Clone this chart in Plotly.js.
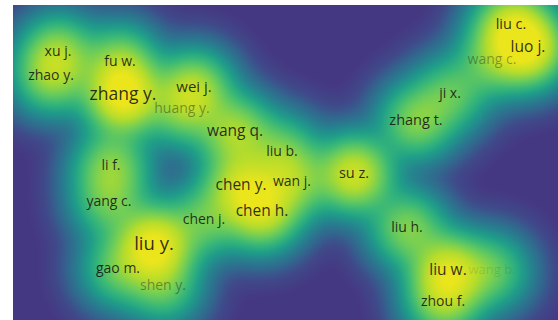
<!DOCTYPE html>
<html>
<head>
<meta charset="utf-8">
<script src="https://cdn.plot.ly/plotly-3.0.1.min.js"></script>
<style>html,body{margin:0;padding:0;background:#fff;}#chart{width:558px;height:320px;}</style>
</head>
<body>
<div id="chart"></div>
<script>
// Co-authorship density map: author nodes, their layout positions and weights
const authors = ['xu j.','zhao y.','fu w.','zhang y.','huang y.','wei j.','wang q.','liu b.',
  'li f.','yang c.','chen j.','chen y.','wan j.','chen h.','su z.','liu y.','gao m.','shen y.',
  'liu c.','luo j.','wang c.','ji x.','zhang t.','liu h.','liu w.','wang b.','zhou f.'];
const posX = [45,38,107,110,169,181,222,269,
  98,96,191,228,279,249,341,141,105,150,
  498,515,479,437,403,394,435,479,430];
const posY = [47,71,57,91,104,83,127,147,
  161,197,215,181,177,207,169,240,264,281,
  20,43,55,89,116,223,266,266,297];
const weights = [4,4,4,9,3,5,5,3,
  4,3,3,6,4,6,7,9,3,3,
  6,8,3,3,4,4,7,3,4];
const labelSize = [14,14,14,17.5,14,15,15.5,14,
  14,14,14,15.5,14,15.5,14.5,18.5,14,14,
  14.5,15.5,14,14,14.5,14,15.5,13,14];
const labelAlpha = [0.88,0.88,0.88,0.88,0.42,0.88,0.88,0.88,
  0.88,0.88,0.88,0.88,0.88,0.88,0.88,0.88,0.88,0.42,
  0.88,0.88,0.38,0.88,0.88,0.88,0.88,0.12,0.88];

// Kernel density over the map area, shown on a compressed (power) scale
const W = 545, H = 315, step = 5, sigma = 22, zRef = 9, gamma = 0.38;
const gx = [], gy = [], z = [];
for (let x = 0; x <= W; x += step) gx.push(x);
for (let y = 0; y <= H; y += step) gy.push(y);
for (const y of gy) {
  const row = [];
  for (const x of gx) {
    let s = 0;
    for (let i = 0; i < authors.length; i++) {
      const dx = x - posX[i], dy = y - posY[i];
      s += weights[i] * Math.exp(-(dx * dx + dy * dy) / (2 * sigma * sigma));
    }
    row.push(Math.pow(s / zRef, gamma));
  }
  z.push(row);
}

const colorscale = [
  [0.00, '#453882'], [0.10, '#3f4a8a'], [0.20, '#32668e'], [0.32, '#26818e'],
  [0.44, '#1f9d89'], [0.56, '#36b679'], [0.70, '#6ecd58'], [0.84, '#b4dc2c'], [1.00, '#ebe51c']
];

const density = {
  type: 'heatmap', x: gx, y: gy, z: z, zsmooth: 'best',
  colorscale: colorscale, zmin: 0.05, zmax: 1, showscale: false, hoverinfo: 'skip'
};

const labels = {
  type: 'scatter', mode: 'text', x: posX, y: posY, text: authors,
  textposition: 'middle center', hoverinfo: 'text',
  textfont: {
    family: 'Open Sans, Noto Sans, sans-serif',
    size: labelSize,
    color: labelAlpha.map(a => 'rgba(20,20,20,' + a + ')')
  }
};

const layout = {
  width: 558, height: 320,
  margin: {l: 13, r: 0, t: 5, b: 0},
  paper_bgcolor: '#ffffff', plot_bgcolor: '#453882',
  showlegend: false,
  xaxis: {range: [0, W], visible: false, fixedrange: true},
  yaxis: {range: [H, 0], visible: false, fixedrange: true}
};

Plotly.newPlot('chart', [density, labels], layout, {displayModeBar: false, staticPlot: true});
</script>
</body>
</html>
